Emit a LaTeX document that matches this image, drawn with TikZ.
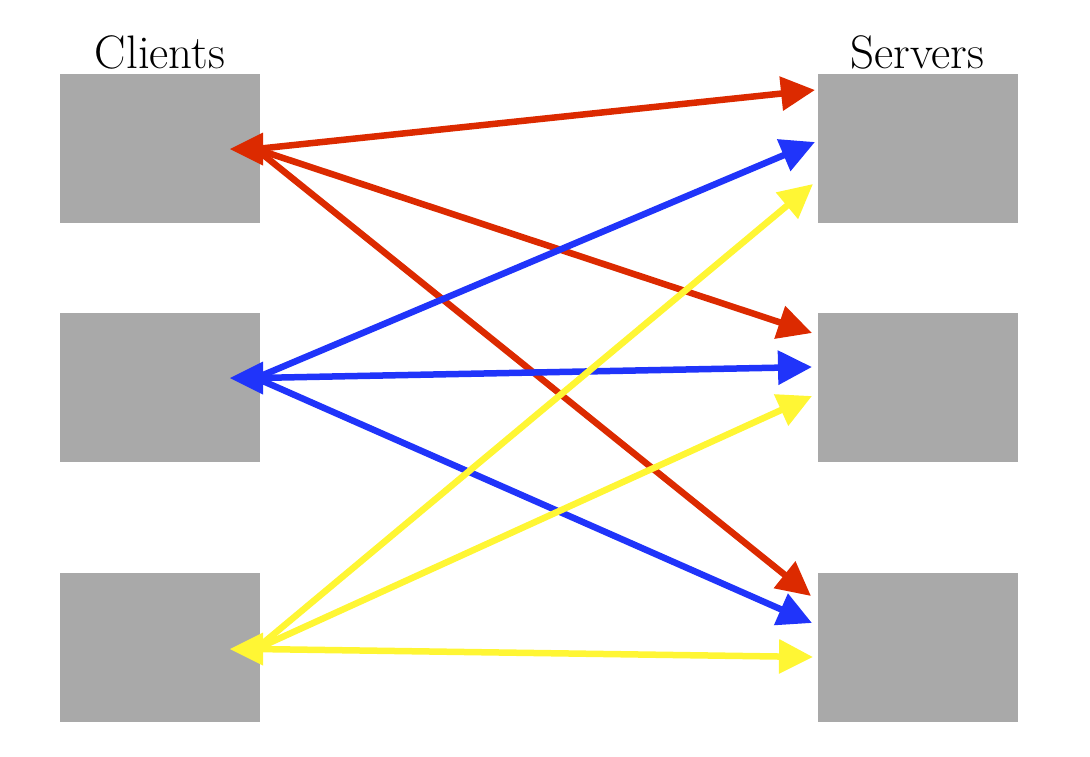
\documentclass[tikz,border=0pt]{standalone}
\usetikzlibrary{arrows.meta}
\definecolor{boxgray}{RGB}{169,169,169}
\definecolor{cred}{RGB}{220,42,0}
\definecolor{cblue}{RGB}{32,52,250}
\definecolor{cyellow}{RGB}{255,246,52}
\begin{document}
\begin{tikzpicture}[x=1pt,y=-1pt,
  hostbox/.style={fill=boxgray,draw=none,minimum width=200pt,minimum height=149pt,inner sep=0pt},
  heading/.style={font=\fontsize{47}{54}\selectfont,anchor=base,inner sep=0pt},
  link/.style={line width=6.5pt,-{Triangle[length=34pt,width=33pt]}}]
\useasboundingbox (0,0) rectangle (1090,756);
\node[hostbox] (c1) at (160,148.5) {};
\node[hostbox] (c2) at (160,387.5) {};
\node[hostbox] (c3) at (160,647.5) {};
\node[hostbox] (s1) at (917.5,148.5) {};
\node[hostbox] (s2) at (917.5,387.5) {};
\node[hostbox] (s3) at (917.5,647.5) {};
\node[heading] (lc) at (160,68) {Clients};
\node[heading] (ls) at (917.5,68) {Servers};
\coordinate (ct1) at (256,149);
\coordinate (ct2) at (256,378);
\coordinate (ct3) at (256,649);
\coordinate (r1) at (815,90);
\coordinate (b1) at (815,142);
\coordinate (y1) at (813,184);
\coordinate (r2) at (812,333);
\coordinate (b2) at (812,367);
\coordinate (y2) at (812,396);
\coordinate (r3) at (811,596);
\coordinate (b3) at (812,623);
\coordinate (y3) at (813,657);
\draw[link,cred] (ct1) -- (r1);
\draw[link,cred] (ct1) -- (r2);
\draw[link,cred] (ct1) -- (r3);
\draw[link,cblue] (ct2) -- (b1);
\draw[link,cblue] (ct2) -- (b2);
\draw[link,cblue] (ct2) -- (b3);
\draw[link,cyellow] (ct3) -- (y1);
\draw[link,cyellow] (ct3) -- (y2);
\draw[link,cyellow] (ct3) -- (y3);
\fill[cred] (230,149) -- (263,132.5) -- (263,165.5) -- cycle;
\fill[cblue] (230,378) -- (263,361.5) -- (263,394.5) -- cycle;
\fill[cyellow] (230,649) -- (263,632.5) -- (263,665.5) -- cycle;
\end{tikzpicture}
\end{document}
